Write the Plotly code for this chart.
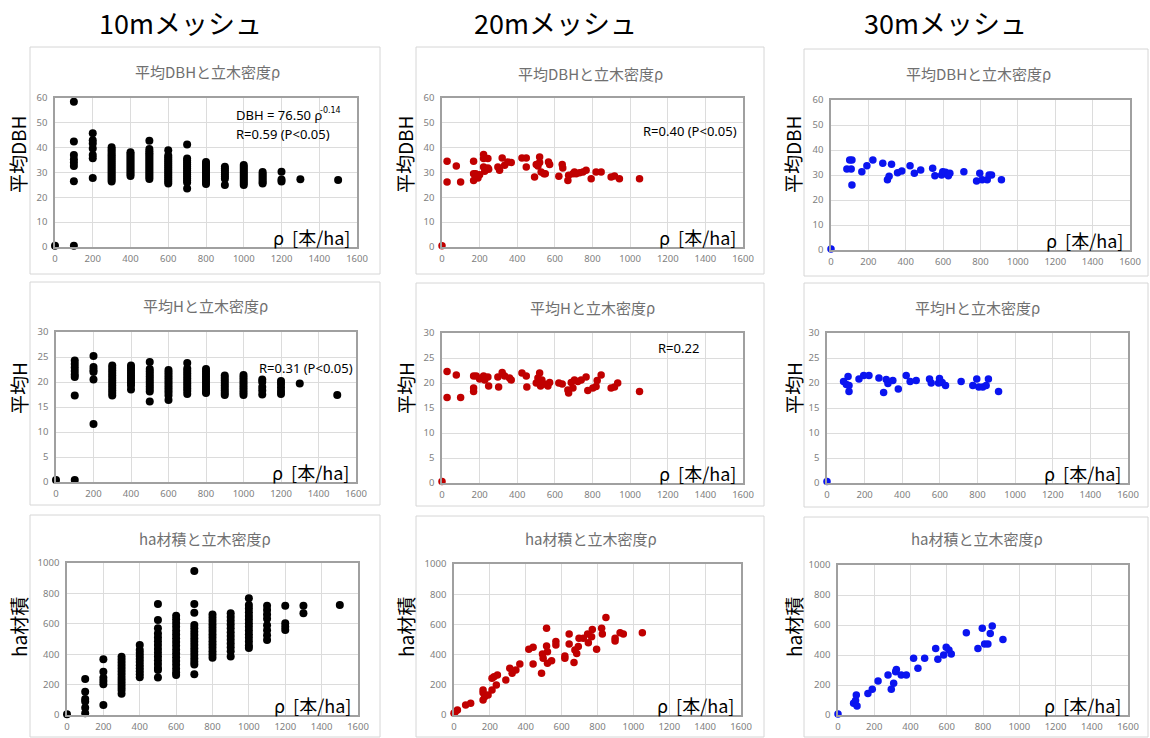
import plotly.graph_objects as go

W, H = 1150, 738

# ---------------- DATA ----------------
# 10m mesh: values grouped by stand density rho
rho10 = [0, 100, 200, 300, 400, 500, 600, 700, 800, 900, 1000, 1100, 1200, 1300, 1500]

dbh10 = [
    [0.5],
    [58.5, 42.5, 37, 35.3, 34, 32.6, 26.5, 0.5],
    [45.8, 43, 41.7, 39.7, 37, 35.7, 27.8],
    [40.2, 39.3, 38.5, 37.6, 36.8, 36, 35.2, 34.4, 33.6, 32.8, 32, 31.2, 30.4, 29.6, 28.8, 28, 27.2, 26.4],
    [38.2, 37.4, 36.6, 35.8, 35, 34.2, 33.4, 32.6, 31.8, 31, 30.2, 29.4, 28.6],
    [42.8, 39.5, 38.6, 37.8, 37, 36.2, 35.4, 34.6, 33.8, 33, 32.2, 31.4, 30.6, 29.8, 29, 28.2, 27.4],
    [39, 36.8, 36, 35.2, 34.4, 33.6, 32.8, 32, 31.2, 30.4, 29.6, 28.8, 28, 27.2, 26.4, 25.6],
    [41.3, 35.6, 34.8, 34, 33.2, 32.4, 31.6, 30.8, 30, 29.2, 28.4, 27.6, 26.8, 26, 23.6],
    [34.2, 33.4, 32.6, 31.8, 31, 30.2, 29.4, 28.6, 27.8, 27, 26.2, 25.4],
    [32.3, 31.5, 30.7, 29.9, 29.1, 28.3, 27.5, 25],
    [33, 32.2, 31.4, 30.6, 29.8, 29, 28.2, 27.4, 26.6, 25.8, 25],
    [30.2, 29.4, 28.6, 27.8, 27, 26.2, 25.6],
    [30.3, 27.2, 26.4],
    [27.3],
    [27],
]

h10 = [
    [0.4],
    [24.3, 23.6, 22.9, 22.2, 21.5, 21, 17.3, 0.4],
    [25.2, 23, 22.4, 22, 20.5, 11.6],
    [23.3, 22.8, 22.3, 21.8, 21.3, 20.8, 20.3, 19.8, 19.3, 18.8, 18.3, 17.8, 17.3],
    [23.3, 22.8, 22.3, 21.8, 21.3, 20.8, 20.3, 19.8, 19.3, 18.5],
    [24, 22.6, 22.1, 21.6, 21.1, 20.6, 20.1, 19.6, 19.1, 18.6, 18.1, 16.1],
    [22.4, 21.9, 21.4, 20.9, 20.4, 19.9, 19.4, 18.9, 18.4, 17.9, 17.3, 16.4],
    [23.8, 22.7, 22.2, 21.7, 21.2, 20.7, 20.2, 19.7, 19.2, 18.7, 18.2, 17.6],
    [22.6, 22.1, 21.6, 21.1, 20.6, 20.1, 19.6, 19.1, 18.6, 18.1, 17.8],
    [21.3, 20.8, 20.3, 19.8, 19.3, 18.8, 18.3, 17.8, 17.4],
    [21.4, 20.9, 20.4, 19.9, 19.4, 18.9, 18.4, 17.9, 17.4],
    [20.5, 20, 19, 18.3, 17.5],
    [20.2, 19.6, 18.9, 18.2, 17.6],
    [19.7],
    [17.4],
]

vol10 = [
    [5],
    [237, 153, 105, 88, 48, 11],
    [366, 285, 245, 224, 202, 66],
    [384, 364, 344, 324, 304, 284, 264, 244, 224, 204, 184, 164, 140],
    [460, 428, 408, 388, 368, 348, 328, 308, 288, 268, 248],
    [730, 625, 570, 537, 510, 485, 460, 435, 410, 385, 360, 335, 310, 296, 246],
    [653, 630, 605, 580, 555, 530, 505, 480, 455, 430, 405, 380, 355, 330, 305, 280, 263],
    [947, 730, 673, 592, 570, 548, 526, 504, 482, 460, 438, 416, 394, 372, 350, 333, 268],
    [662, 640, 618, 596, 574, 552, 530, 508, 486, 464, 442, 420, 398, 376],
    [669, 645, 620, 595, 570, 545, 520, 495, 470, 445, 420, 385],
    [768, 724, 700, 676, 652, 628, 604, 580, 556, 532, 508, 484, 458, 440],
    [719, 691, 662, 633, 590, 557, 524, 493],
    [719, 603, 581, 559],
    [719, 669],
    [724],
]

# 20m mesh
rho20_dbh = [0, 27, 27, 76, 99, 168, 168, 168, 179, 191, 200, 221, 221, 221, 227, 244, 244, 248,
             297, 306, 320, 333, 350, 368, 425, 448, 448, 492, 501, 510, 519, 519, 527, 542, 549,
             566, 572, 621, 639, 642, 669, 673, 696, 704, 713, 731, 749, 766, 793, 819, 846, 899,
             917, 943, 1050]
dbh20 = [0.5, 34.5, 26.2, 32.6, 26.2, 34.5, 29.5, 26.8, 29.5, 27.8, 29.1, 37.2, 35.6, 32.2, 30.5,
         35.6, 31.8, 31.3, 32.2, 30.9, 35.8, 32.9, 34.2, 34, 35.8, 35.8, 32.2, 28.2, 33.2, 32.6,
         36.2, 34, 30.2, 29.5, 29.5, 34.2, 33.2, 28.5, 33.2, 31.8, 26.8, 28.9, 29.5, 30.2, 29.5,
         29.9, 30.2, 30.9, 27.5, 30.2, 30.2, 28.2, 28.6, 27.5, 27.5]

rho20_h = [0, 27, 27, 76, 99, 168, 168, 168, 182, 200, 221, 227, 244, 248, 297, 301, 320, 333,
           359, 368, 425, 448, 451, 501, 510, 519, 524, 531, 542, 563, 572, 621, 639, 669, 673,
           687, 696, 704, 722, 740, 766, 775, 802, 819, 825, 846, 899, 917, 934, 1050]
h20 = [0.3, 22.3, 17.1, 21.6, 17.1, 21.4, 19, 18.3, 21.4, 20.8, 21.4, 20.6, 21.2, 19.4, 21.2,
       19.2, 22.1, 21.4, 21, 20.6, 22, 21.4, 19.2, 20, 21, 22, 19.4, 20.6, 19.8, 19.4, 20.1, 20,
       19.8, 18.6, 18, 20.1, 19, 20.6, 20.3, 20.6, 21.2, 18.5, 19, 19.3, 20.5, 21.6, 19, 19.2,
       20, 18.3]

rho20_vol = [0, 7, 19, 65, 93, 162, 162, 162, 171, 190, 212, 212, 223, 236, 242, 289, 311, 324,
             345, 367, 417, 441, 441, 488, 493, 497, 516, 516, 521, 521, 544, 568, 568, 618, 618,
             642, 642, 669, 674, 684, 693, 697, 721, 745, 749, 767, 771, 795, 823, 827, 847, 898,
             898, 926, 944, 1050]
vol20 = [11, 22, 33, 66, 77, 166, 148, 99, 121, 132, 166, 243, 254, 199, 265, 232, 309, 276, 298,
         338, 435, 448, 338, 276, 404, 375, 574, 457, 419, 342, 360, 464, 486, 391, 375, 536, 470,
         347, 430, 408, 453, 508, 508, 536, 479, 519, 567, 435, 574, 536, 645, 508, 490, 545, 536,
         545]

# 30m mesh
rho30_dbh = [0, 85, 100, 108, 112, 112, 165, 192, 224, 277, 302, 311, 324, 356, 379, 423, 446,
             480, 544, 556, 592, 598, 613, 628, 636, 711, 779, 796, 809, 836, 846, 859, 912]
dbh30 = [0.4, 32.4, 36, 32.4, 36, 26, 31.3, 33.7, 36, 34.7, 28.1, 29.5, 34.3, 30.9, 31.6, 33.7,
         30.7, 32, 32.7, 29.7, 30, 31.3, 31.1, 29.7, 30.7, 31.3, 27.6, 30.7, 28.1, 28.1, 30, 30,
         28.1]

rho30_h = [0, 88, 103, 112, 117, 117, 170, 195, 223, 276, 301, 315, 324, 350, 379, 421, 442, 474,
           545, 554, 593, 598, 612, 630, 713, 775, 796, 807, 828, 846, 858, 912]
h30 = [0.3, 20.3, 19.7, 21.3, 19.5, 18.3, 20.8, 21.5, 21.5, 21, 18.1, 20.7, 19.9, 20.5, 18.8,
       21.5, 20.3, 20.5, 20.8, 20, 20, 20.9, 20.1, 19.5, 20.3, 19.5, 20.8, 19.2, 19.2, 19.5, 20.8,
       18.3]

rho30_vol = [0, 86, 97, 101, 105, 165, 189, 221, 276, 294, 307, 318, 322, 349, 377, 417, 441, 478,
             539, 551, 583, 597, 612, 625, 708, 772, 796, 809, 827, 840, 851, 910]
vol30 = [7, 78, 96, 133, 60, 144, 171, 227, 267, 171, 211, 289, 304, 267, 267, 378, 311, 378, 444,
         371, 400, 451, 433, 407, 549, 444, 578, 473, 473, 544, 593, 504]

col_headers = ["10mメッシュ", "20mメッシュ", "30mメッシュ"]
chart_titles = ["平均DBHと立木密度ρ", "平均Hと立木密度ρ", "ha材積と立木密度ρ"]
y_titles = ["平均DBH", "平均H", "ha材積"]
x_unit = "ρ  [本/ha]"

# ---------------- LAYOUT HELPERS ----------------
def px(x):
    return x / W

def py(y):
    return 1 - y / H

def flatten(xs, groups):
    fx, fy = [], []
    for x, g in zip(xs, groups):
        for v in g:
            fx.append(x)
            fy.append(v)
    return fx, fy

# plot areas (pixel): x0, x1, ytop, ybottom
plot_areas = [
    [(55, 357, 98, 247), (442, 743, 98, 247), (831, 1130, 100, 250)],
    [(56, 356, 332, 482), (442, 743, 333, 483), (827, 1128, 333, 483)],
    [(67, 358, 563, 715), (454, 741, 564, 715), (838, 1128, 565, 715)],
]
boxes = [
    [(30, 47, 380, 274), (416, 47, 764, 274), (804, 49, 1148, 276)],
    [(30, 282, 380, 505), (416, 283, 764, 506), (804, 283, 1148, 507)],
    [(30, 515, 380, 737), (416, 516, 764, 737), (804, 517, 1148, 737)],
]
title_pos = [
    [(207, 72), (590, 73), (978, 73)],
    [(205, 305), (592, 307), (977, 307)],
    [(205, 538), (591, 538), (977, 538)],
]
ytitle_x = [18, 405, 793]
ytitle_y = [155, 388, 627]
header_x = [180, 555, 945]
yranges = [(60, 10), (30, 5), (1000, 200)]

colors = ["#000000", "#c00000", "#0a14f0"]
msizes = [8, 7.5, 7.5]

data = [
    [flatten(rho10, dbh10), (rho20_dbh, dbh20), (rho30_dbh, dbh30)],
    [flatten(rho10, h10), (rho20_h, h20), (rho30_h, h30)],
    [flatten(rho10, vol10), (rho20_vol, vol20), (rho30_vol, vol30)],
]

fig = go.Figure()
layout = dict(
    width=W, height=H, margin=dict(l=0, r=0, t=0, b=0, pad=0, autoexpand=False),
    paper_bgcolor="white", plot_bgcolor="white", showlegend=False,
    font=dict(family="Noto Sans CJK JP, Noto Sans, sans-serif"),
)
shapes = []
annotations = []

tickfont = dict(family="Noto Sans, Liberation Sans, sans-serif", size=9.5, color="#808080")

idx = 0
for r in range(3):
    for c in range(3):
        idx += 1
        xs, ys = data[r][c]
        sfx = "" if idx == 1 else str(idx)
        fig.add_trace(go.Scatter(
            x=xs, y=ys, mode="markers", xaxis="x" + sfx, yaxis="y" + sfx,
            marker=dict(color=colors[c], size=msizes[c], line=dict(width=0)),
            cliponaxis=False, hoverinfo="x+y",
        ))
        x0, x1, yt, yb = plot_areas[r][c]
        ymax, ydt = yranges[r]
        layout["xaxis" + sfx] = dict(
            domain=[px(x0), px(x1)], anchor="y" + sfx, range=[0, 1600], dtick=200,
            showgrid=True, gridcolor="#dcdcdc", gridwidth=1, zeroline=False,
            showline=True, linecolor="#a0a0a0", linewidth=1.5, mirror=True,
            ticks="", tickfont=tickfont, ticklabelstandoff=2,
        )
        layout["yaxis" + sfx] = dict(
            domain=[py(yb), py(yt)], anchor="x" + sfx, range=[0, ymax], dtick=ydt,
            showgrid=True, gridcolor="#dcdcdc", gridwidth=1, zeroline=False,
            showline=True, linecolor="#a0a0a0", linewidth=1.5, mirror=True,
            ticks="", tickfont=tickfont, ticklabelstandoff=4,
        )
        bx0, by0, bx1, by1 = boxes[r][c]
        shapes.append(dict(type="rect", xref="paper", yref="paper",
                           x0=px(bx0), x1=px(bx1), y0=py(by1), y1=py(by0),
                           line=dict(color="#d6d6d6", width=1), layer="below"))
        tx, ty = title_pos[r][c]
        annotations.append(dict(xref="paper", yref="paper", x=px(tx), y=py(ty),
                                text=chart_titles[r], showarrow=False,
                                font=dict(size=15, color="#707070"),
                                xanchor="center", yanchor="middle"))
        annotations.append(dict(xref="paper", yref="paper", x=px(ytitle_x[c]), y=py(ytitle_y[r]),
                                text=y_titles[r], showarrow=False, textangle=-90,
                                font=dict(size=19, color="#000000"),
                                xanchor="center", yanchor="middle"))
        annotations.append(dict(xref="paper", yref="paper", x=px(x1 - 5), y=py(yb - 10),
                                text=x_unit, showarrow=False,
                                font=dict(size=18, color="#000000"),
                                xanchor="right", yanchor="middle"))

for c in range(3):
    annotations.append(dict(xref="paper", yref="paper", x=px(header_x[c]), y=py(22),
                            text=col_headers[c], showarrow=False,
                            font=dict(size=27, color="#000000"),
                            xanchor="center", yanchor="middle"))

# statistics text
stat_font = dict(size=13, color="#000000", family="Noto Sans, Liberation Sans, sans-serif")
sup_font = dict(size=8, color="#000000", family="DejaVu Sans, sans-serif")
annotations += [
    dict(xref="paper", yref="paper", x=px(234), y=py(115), xanchor="left", yanchor="middle",
         text="DBH = 76.50 ρ", showarrow=False, font=stat_font),
    dict(xref="paper", yref="paper", x=px(318), y=py(110), xanchor="left", yanchor="middle",
         text="-0.14", showarrow=False, font=sup_font),
    dict(xref="paper", yref="paper", x=px(234), y=py(134), xanchor="left", yanchor="middle",
         text="R=0.59 (P<0.05)", showarrow=False, font=stat_font),
    dict(xref="paper", yref="paper", x=px(641), y=py(131), xanchor="left", yanchor="middle",
         text="R=0.40 (P<0.05)", showarrow=False, font=stat_font),
    dict(xref="paper", yref="paper", x=px(257), y=py(368), xanchor="left", yanchor="middle",
         text="R=0.31 (P<0.05)", showarrow=False, font=stat_font),
    dict(xref="paper", yref="paper", x=px(656), y=py(348), xanchor="left", yanchor="middle",
         text="R=0.22", showarrow=False, font=stat_font),
]

layout["shapes"] = shapes
layout["annotations"] = annotations
fig.update_layout(**layout)
fig.write_html(
    "out.html",
    config={"displayModeBar": False},
    post_script="document.body.style.margin='0';document.body.style.overflow='hidden';",
)
